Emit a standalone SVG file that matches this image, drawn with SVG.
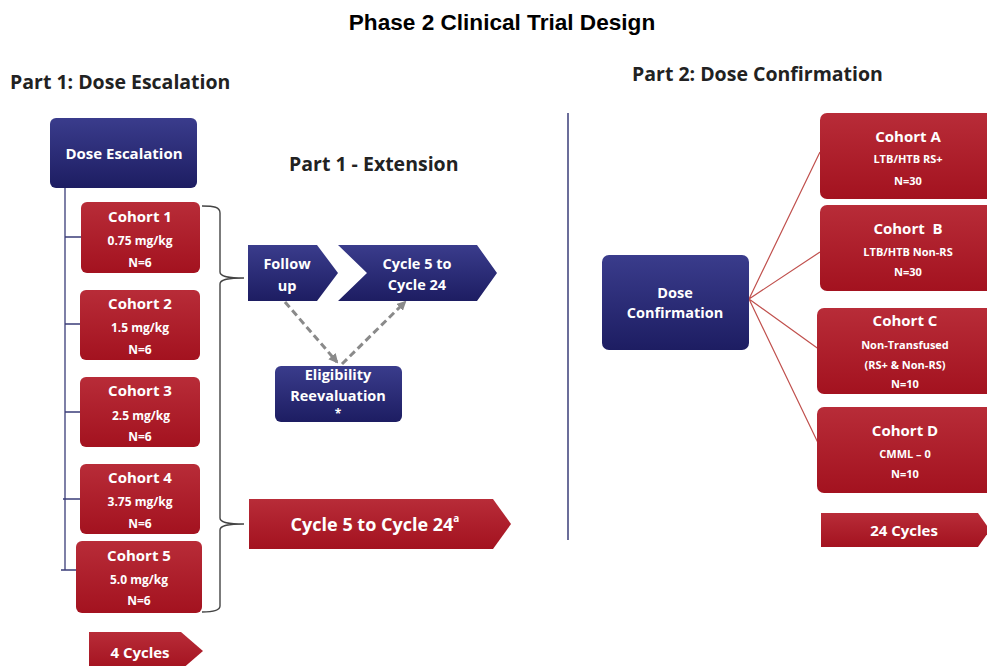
<svg xmlns="http://www.w3.org/2000/svg" width="987" height="666" viewBox="0 0 987 666">
<defs>
<linearGradient id="red" x1="0" y1="0" x2="0" y2="1"><stop offset="0" stop-color="#b82c38"/><stop offset="1" stop-color="#a3121f"/></linearGradient>
<linearGradient id="navy" x1="0" y1="0" x2="0" y2="1"><stop offset="0" stop-color="#3a3c8c"/><stop offset="1" stop-color="#1d1d62"/></linearGradient>
<marker id="ah" viewBox="0 0 10 10" refX="8" refY="5" markerWidth="3.2" markerHeight="3.2" orient="auto"><path d="M0,0 L10,5 L0,10 z" fill="#8a8a8a"/></marker>
<style>
.t{font-family:"Open Sans","Liberation Sans",sans-serif;font-weight:700;fill:#fff;text-anchor:middle;dominant-baseline:central}
.h{font-family:"Open Sans","Liberation Sans",sans-serif;font-weight:700;fill:#222}
.c{font-size:15px}
.s{font-size:12px}
.q{font-size:11px}
.r{fill:url(#red)}
.n{fill:url(#navy)}
</style>
</defs>
<rect width="987" height="666" fill="#fff"/>
<text x="502" y="30" text-anchor="middle" font-family="Liberation Sans, Arial, sans-serif" font-weight="700" font-size="22.6" fill="#000">Phase 2 Clinical Trial Design</text>
<text class="h" x="10" y="89" font-size="19.5">Part 1: Dose Escalation</text>
<text class="h" x="289" y="171" font-size="19.5">Part 1 - Extension</text>
<text class="h" x="632" y="81" font-size="19.5">Part 2: Dose Confirmation</text>

<g id="connectors" fill="none">
<path d="M65,188 V570 M65,237 H81 M65,324 H80 M65,412 H80 M63,499 H80 M61,570 H76" stroke="#3a3c78" stroke-width="1.3"/>
<path d="M202,206 C214,206 220,207 220,213 V272 C220,276 226,278 244,278 C226,278 220,280 220,284 V518 C220,522 226,524 244,524 C226,524 220,526 220,530 V606 C220,610 214,612 202,612" stroke="#444" stroke-width="1.4"/>
<line x1="285" y1="302" x2="337" y2="362" stroke="#8a8a8a" stroke-width="3" stroke-dasharray="7,4" marker-end="url(#ah)"/>
<line x1="342" y1="364" x2="405" y2="302" stroke="#8a8a8a" stroke-width="3" stroke-dasharray="7,4" marker-end="url(#ah)"/>
<line x1="568" y1="113" x2="568" y2="540" stroke="#3a3c78" stroke-width="1.5"/>
<path d="M749,299 L820,152 M749,299 L820,252 M749,299 L820,350 M749,299 L820,447" stroke="#c0504d" stroke-width="1.2"/>
</g>

<g id="dose-escalation"><rect class="n" x="50" y="118" width="147" height="70" rx="6"/><text class="t c" x="124" y="153">Dose Escalation</text></g>
<g id="cohort1"><rect class="r" x="81" y="202" width="119" height="71" rx="6"/><text class="t c" x="140" y="216">Cohort 1</text><text class="t s" x="140" y="240">0.75 mg/kg</text><text class="t s" x="140" y="262">N=6</text></g>
<g id="cohort2"><rect class="r" x="80" y="290" width="120" height="70" rx="6"/><text class="t c" x="140" y="303">Cohort 2</text><text class="t s" x="140" y="327">1.5 mg/kg</text><text class="t s" x="140" y="349">N=6</text></g>
<g id="cohort3"><rect class="r" x="80" y="377" width="120" height="70" rx="6"/><text class="t c" x="140" y="390">Cohort 3</text><text class="t s" x="141" y="415">2.5 mg/kg</text><text class="t s" x="140" y="436">N=6</text></g>
<g id="cohort4"><rect class="r" x="80" y="464" width="120" height="70" rx="6"/><text class="t c" x="140" y="477">Cohort 4</text><text class="t s" x="140" y="501">3.75 mg/kg</text><text class="t s" x="140" y="523">N=6</text></g>
<g id="cohort5"><rect class="r" x="76" y="541" width="126" height="72" rx="6"/><text class="t c" x="139" y="555">Cohort 5</text><text class="t s" x="139" y="579">5.0 mg/kg</text><text class="t s" x="139" y="600">N=6</text></g>
<g id="four-cycles"><path class="r" d="M89,632 H181 L203,651 L181,670 H89 z"/><text class="t c" x="140" y="652">4 Cycles</text></g>

<g id="follow-up"><path class="n" d="M248,245 H317 L338,273 L317,301 H248 z"/><text class="t" font-size="14.5" x="287" y="263">Follow</text><text class="t" font-size="14.5" x="287" y="285">up</text></g>
<g id="cycle5-24-ext"><path class="n" d="M338,245 H477 L497,273 L477,301 H338 L367,273 z"/><text class="t" font-size="14.5" x="417" y="263">Cycle 5 to</text><text class="t" font-size="14.5" x="417" y="284">Cycle 24</text></g>
<g id="eligibility"><rect class="n" x="275" y="366" width="127" height="56" rx="6"/><text class="t" font-size="14.5" x="338" y="374">Eligibility</text><text class="t" font-size="14.5" x="338" y="395">Reevaluation</text><text class="t s" x="338" y="413">*</text></g>
<g id="cycle5-24"><path class="r" d="M249,499 H493 L511,524 L493,549 H249 z"/><text class="t" font-size="18" x="375" y="524">Cycle 5 to Cycle 24<tspan font-size="10" dy="-6">a</tspan></text></g>

<g id="dose-confirmation"><rect class="n" x="602" y="255" width="147" height="95" rx="7"/><text class="t" font-size="14.5" x="675" y="292">Dose</text><text class="t" font-size="14.5" x="675" y="312">Confirmation</text></g>
<g id="cohortA"><rect class="r" x="820" y="113" width="180" height="86" rx="7"/><text class="t c" x="908" y="136">Cohort A</text><text class="t q" x="908" y="158">LTB/HTB RS+</text><text class="t q" x="908" y="180">N=30</text></g>
<g id="cohortB"><rect class="r" x="820" y="205" width="180" height="86" rx="7"/><text class="t c" x="908" y="228" xml:space="preserve">Cohort  B</text><text class="t q" x="908" y="251">LTB/HTB Non-RS</text><text class="t q" x="908" y="271">N=30</text></g>
<g id="cohortC"><rect class="r" x="817" y="308" width="183" height="86" rx="7"/><text class="t c" x="905" y="320">Cohort C</text><text class="t q" x="905" y="344">Non-Transfused</text><text class="t q" x="905" y="364">(RS+ &amp; Non-RS)</text><text class="t q" x="905" y="383">N=10</text></g>
<g id="cohortD"><rect class="r" x="817" y="407" width="183" height="86" rx="7"/><text class="t c" x="905" y="430">Cohort D</text><text class="t q" x="905" y="453">CMML – 0</text><text class="t q" x="905" y="473">N=10</text></g>
<g id="cycles24"><path class="r" d="M821,513 H978 L990,530 L978,547 H821 z"/><text class="t c" x="904" y="530">24 Cycles</text></g>
</svg>
